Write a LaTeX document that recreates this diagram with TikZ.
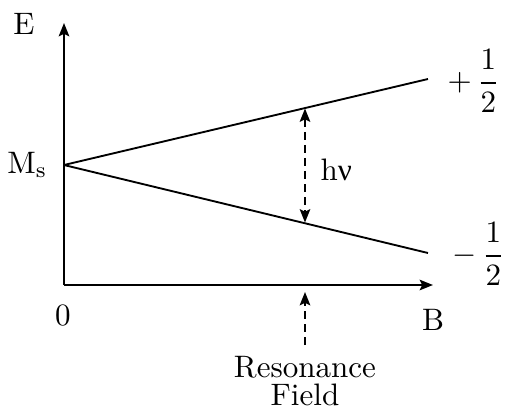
\documentclass[tikz,border=0pt]{standalone}
\usepackage{amsmath}
\usepackage{fontspec}
\newfontfamily\grk{Liberation Serif}
\usetikzlibrary{arrows.meta}
\tikzset{
  >={Stealth[length=4.3pt,width=3.4pt,inset=0.8pt]},
  ax/.style={line width=0.6pt, ->},
  lvl/.style={line width=0.6pt},
  dsh/.style={line width=0.6pt, dash pattern=on 2.6pt off 1.6pt},
  lbl/.style={inner sep=0pt, font=\fontsize{10}{12}\selectfont}
}
\begin{document}
\begin{tikzpicture}[x=0.322pt,y=-0.322pt]
\useasboundingbox (0,0) rectangle (518,407);
\coordinate (O) at (64,285);
\coordinate (Ytop) at (64,23);
\coordinate (Xend) at (433,285);
\coordinate (M) at (64,165);
\coordinate (Up) at (428,79);
\coordinate (Lo) at (428,253);
\coordinate (Ha) at (305,108.5);
\coordinate (Hb) at (305,222.5);
\coordinate (Ra) at (305,345);
\coordinate (Rb) at (305,292);
\draw[ax] (O) -- (Ytop);
\draw[ax] (O) -- (Xend);
\draw[lvl] (M) -- (Up);
\draw[lvl] (M) -- (Lo);
\draw[dsh, <->] (Ha) -- (Hb);
\draw[dsh, ->] (Ra) -- (Rb);
\node[lbl, anchor=base] (E) at (24,34) {E};
\node[lbl, anchor=base east] (Ms) at (48,173) {M$_{\mathrm{s}}$};
\node[lbl, anchor=base] (zero) at (63,325) {0};
\node[lbl, anchor=base] (B) at (433,330) {B};
\node[lbl, anchor=base west] (hnu) at (320,180) {h{\grk ν}};
\node[lbl, anchor=west] (plus) at (447,81) {$+\,\dfrac{1}{2}$};
\node[lbl, anchor=west] (minus) at (452,254) {$-\,\dfrac{1}{2}$};
\node[lbl, anchor=base] (res) at (305,377) {Resonance};
\node[lbl, anchor=base] (fld) at (305,405) {Field};
\end{tikzpicture}
\end{document}
